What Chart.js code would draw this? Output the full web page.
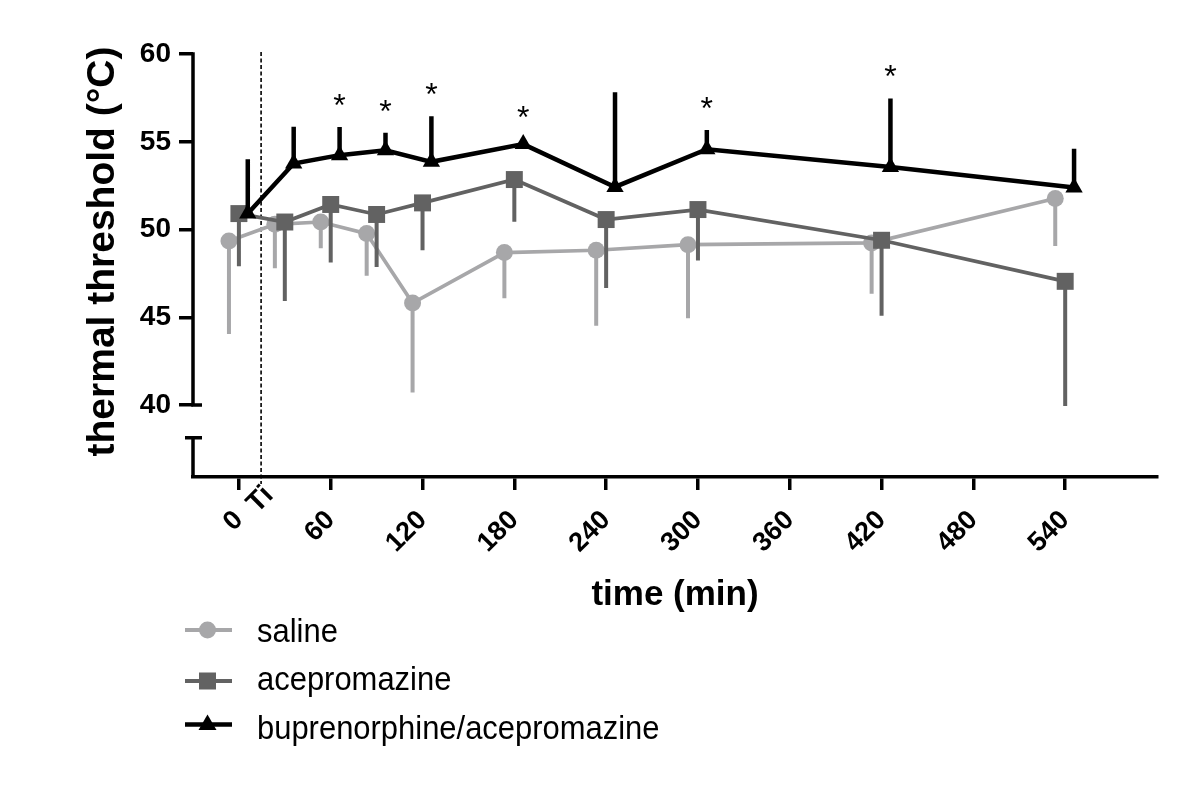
<!DOCTYPE html>
<html><head><meta charset="utf-8">
<script src="https://cdn.jsdelivr.net/npm/chart.js@4.4.1/dist/chart.umd.min.js"></script>
<style>
html,body{margin:0;padding:0;background:#fff;}
#wrap{position:relative;width:1200px;height:797px;overflow:hidden;background:#fff;}
#c{position:absolute;left:0;top:0;}
.lg{position:absolute;left:257px;font-family:"Liberation Sans",Arial,sans-serif;font-size:34px;line-height:34px;transform:scaleX(0.91);transform-origin:0 0;white-space:nowrap;color:#000;}
#icons{position:absolute;left:170px;top:610px;}
</style></head><body>
<div id="wrap"><canvas id="c" width="1200" height="797"></canvas><svg id="icons" width="90" height="140"></svg></div>
<script>
// ---- data ----
const times = [0, 30, 60, 90, 120, 180, 240, 300, 420, 540];
const seriesNames = ['saline', 'acepromazine', 'buprenorphine/acepromazine'];
const salineMean = [49.35, 50.3, 50.43, 49.77, 45.81, 48.69, 48.82, 49.14, 49.24, 51.77];
const salineSD   = [5.3, 2.5, 1.5, 2.4, 5.1, 2.6, 4.3, 4.2, 2.9, 2.7];
const acepMean   = [50.91, 50.43, 51.43, 50.86, 51.52, 52.85, 50.57, 51.14, 49.39, 47.05];
const acepSD     = [3.0, 4.5, 3.3, 3.0, 2.7, 2.4, 3.9, 2.9, 4.3, 7.1];
const bupMean    = [50.91, 53.76, 54.24, 54.52, 53.86, 54.87, 52.43, 54.58, 53.57, 52.4];
const bupSD      = [3.1, 2.1, 1.6, 1.0, 2.6, 0.3, 5.4, 1.1, 3.9, 2.2];
const bupSignificant = [false, false, true, true, true, true, false, true, true, false];
const xTickValues = [0, 60, 120, 180, 240, 300, 360, 420, 480, 540];
const yTickValues = [40, 45, 50, 55, 60];
const injectionTime = 14.5;
const injectionLabel = 'Ti';
const xTitle = 'time (min)';
const yTitle = 'thermal threshold (°C)';

// ---- styles ----
const FONT = '"Liberation Sans", Arial, sans-serif';
Chart.defaults.font.family = FONT;
const styles = [
  {color:'#a7a7a9', offset:-6.5, dir:-1, pointStyle:'circle',   radius:8.5, lw:3.7, ew:4,   order:3},
  {color:'#626262', offset:0,    dir:-1, pointStyle:'rect',     radius:12,  lw:3.7, ew:4,   order:2},
  {color:'#000000', offset:5.8,  dir: 1, pointStyle:'triangle', radius:10,  lw:4.5, ew:4.5, order:1}
];
const means = [salineMean, acepMean, bupMean];
const sds = [salineSD, acepSD, bupSD];
const axisBreakValue = 38.13;

const datasets = seriesNames.map((name, s) => ({
  label: name,
  data: times.map((t, i) => ({x: t + styles[s].offset, y: means[s][i]})),
  sd: sds[s], errDir: styles[s].dir, errWidth: styles[s].ew,
  borderColor: styles[s].color, backgroundColor: styles[s].color,
  borderWidth: styles[s].lw, pointStyle: styles[s].pointStyle,
  pointRadius: styles[s].radius, pointBorderWidth: 0,
  pointBackgroundColor: styles[s].color, tension: 0, order: styles[s].order, clip: false
}));

const errorBars = {
  id: 'errorBars',
  beforeDatasetDraw(chart, args) {
    const ds = chart.data.datasets[args.index];
    const y = chart.scales.y, ctx = chart.ctx;
    ctx.save();
    ctx.strokeStyle = ds.borderColor; ctx.lineWidth = ds.errWidth; ctx.lineCap = 'butt';
    ctx.beginPath();
    args.meta.data.forEach((pt, i) => {
      const v = ds.data[i].y + ds.errDir * ds.sd[i];
      ctx.moveTo(pt.x, pt.y);
      ctx.lineTo(pt.x, y.getPixelForValue(v));
    });
    ctx.stroke();
    ctx.restore();
  }
};

const axesPlugin = {
  id: 'axesPlugin',
  beforeDatasetsDraw(chart) {
    const {ctx, chartArea: ca, scales: {x, y}} = chart;
    ctx.save();
    ctx.strokeStyle = '#000'; ctx.lineWidth = 3.5; ctx.lineCap = 'butt';
    const ax = ca.left;
    const y60 = y.getPixelForValue(60), y40 = y.getPixelForValue(40), yb = y.getPixelForValue(axisBreakValue);
    ctx.beginPath();
    ctx.moveTo(ax, y60 - 1.75); ctx.lineTo(ax, y40 + 1.75);
    ctx.moveTo(ax, y40); ctx.lineTo(ax + 9, y40);
    ctx.moveTo(ax - 8, yb); ctx.lineTo(ax + 9, yb);
    ctx.moveTo(ax, yb - 1.75); ctx.lineTo(ax, ca.bottom);
    ctx.stroke();
    // injection dashed line
    const tx = x.getPixelForValue(injectionTime);
    ctx.lineWidth = 1.6; ctx.setLineDash([4, 2.5]);
    ctx.beginPath(); ctx.moveTo(tx, y60 - 2); ctx.lineTo(tx, ca.bottom + 7); ctx.stroke();
    ctx.setLineDash([]);
    // Ti label
    ctx.translate(tx + 8, ca.bottom + 14);
    ctx.rotate(-Math.PI / 4);
    ctx.fillStyle = '#000'; ctx.font = 'bold 28px ' + FONT;
    ctx.textAlign = 'right'; ctx.textBaseline = 'middle';
    ctx.fillText(injectionLabel, 0, 0);
    ctx.restore();
  },
  afterDatasetsDraw(chart) {
    const {ctx, scales: {y}} = chart;
    const meta = chart.getDatasetMeta(2);
    ctx.save();
    ctx.fillStyle = '#000'; ctx.font = '32px ' + FONT;
    ctx.textAlign = 'center'; ctx.textBaseline = 'alphabetic';
    bupSignificant.forEach((sig, i) => {
      if (!sig) return;
      const top = y.getPixelForValue(bupMean[i] + bupSD[i]);
      ctx.fillText('*', meta.data[i].x, top - 25 + 14);
    });
    ctx.restore();
  }
};

new Chart(document.getElementById('c'), {
  type: 'line',
  data: {datasets},
  options: {
    responsive: false, animation: false, events: [],
    layout: {padding: {left: 0, top: 26, right: 43, bottom: 181}},
    plugins: {legend: {display: false}, tooltip: {enabled: false}},
    scales: {
      x: {
        type: 'linear', min: -30, max: 600,
        afterBuildTicks: s => { s.ticks = xTickValues.map(v => ({value: v})); },
        afterFit: s => { s.height = 139; s.paddingLeft = 0; s.paddingRight = 0; },
        grid: {display: true, drawOnChartArea: false, drawTicks: true, tickLength: 13, color: '#000', lineWidth: 3.5},
        border: {display: true, color: '#000', width: 3.5},
        ticks: {autoSkip: false, minRotation: 45, maxRotation: 45, padding: 14.5, labelOffset: 0,
                color: '#000', font: {size: 27, weight: 'bold'}},
        title: {display: true, text: xTitle, color: '#000', font: {size: 35, weight: 'bold'}, padding: 0}
      },
      y: {
        type: 'linear', min: 35.9, max: 61.6,
        afterBuildTicks: s => { s.ticks = yTickValues.map(v => ({value: v})); },
        afterFit: s => { s.width = 193; s.paddingTop = 0; s.paddingBottom = 0; },
        grid: {display: true, drawOnChartArea: false, drawTicks: true, tickLength: 14, color: '#000', lineWidth: 3.5},
        border: {display: false},
        ticks: {padding: 8, color: '#000', font: {size: 28, weight: 'bold'}},
        title: {display: true, text: yTitle, color: '#000', font: {size: 39, weight: 'bold'}, padding: {top: 80, bottom: 0}}
      }
    }
  },
  plugins: [errorBars, axesPlugin]
});

// ---- legend (HTML) ----
const wrap = document.getElementById('wrap');
const svg = document.getElementById('icons');
const rowY = [20, 71, 114.5];      // icon centre lines inside svg
const textTop = [613, 661.3, 709.5];
const NS = 'http://www.w3.org/2000/svg';
seriesNames.forEach((name, s) => {
  const st = styles[s], cy = rowY[s], cx = 37.5;
  const line = document.createElementNS(NS, 'line');
  line.setAttribute('x1', 15); line.setAttribute('x2', 62);
  line.setAttribute('y1', cy); line.setAttribute('y2', cy);
  line.setAttribute('stroke', st.color); line.setAttribute('stroke-width', s === 2 ? 4.5 : 4);
  svg.appendChild(line);
  let m;
  if (st.pointStyle === 'circle') {
    m = document.createElementNS(NS, 'circle');
    m.setAttribute('cx', cx); m.setAttribute('cy', cy); m.setAttribute('r', 8.5);
  } else if (st.pointStyle === 'rect') {
    m = document.createElementNS(NS, 'rect');
    m.setAttribute('x', cx - 8.5); m.setAttribute('y', cy - 8.5); m.setAttribute('width', 17); m.setAttribute('height', 17);
  } else {
    m = document.createElementNS(NS, 'polygon');
    m.setAttribute('points', `${cx},${cy-10} ${cx+9},${cy+5.5} ${cx-9},${cy+5.5}`);
  }
  m.setAttribute('fill', st.color);
  svg.appendChild(m);
  const d = document.createElement('div');
  d.className = 'lg'; d.style.top = textTop[s] + 'px'; d.textContent = name;
  wrap.appendChild(d);
});
</script>
</body></html>
